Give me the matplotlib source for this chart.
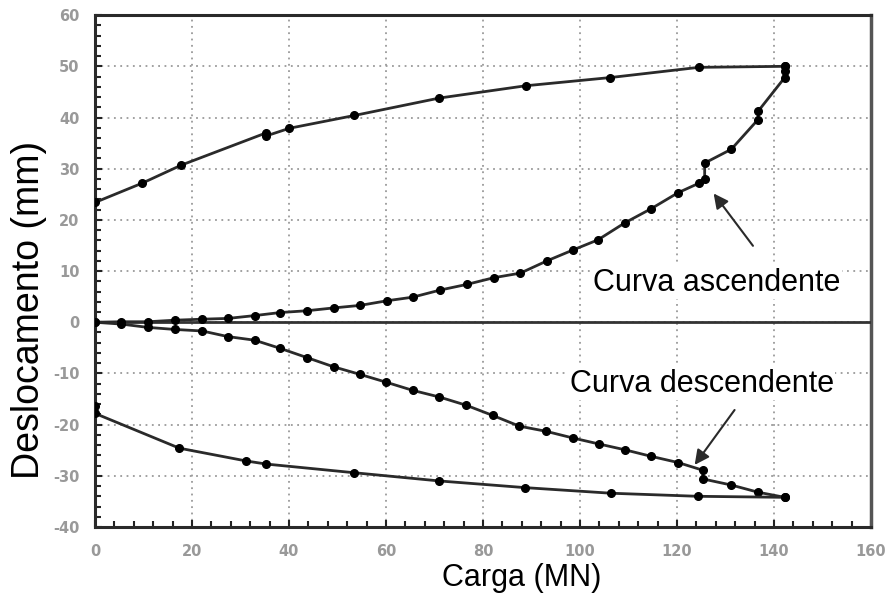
import numpy as np
import matplotlib
matplotlib.use('Agg')
import matplotlib.pyplot as plt
from matplotlib.ticker import MultipleLocator

plt.rcParams['axes.unicode_minus'] = False

# curva ascendente (carga, deslocamento positivo)
asc_x = [0, 5.4, 10.9, 16.4, 22.1, 27.4, 32.9, 38.2, 43.7, 49.2, 54.7, 60.2, 65.5, 71.2,
         76.7, 82.2, 87.7, 93.2, 98.5, 103.7, 109.2, 114.7, 120.2, 124.6, 125.7, 125.7,
         131.2, 136.7, 136.7, 142.2, 142.2, 142.2]
asc_y = [0, 0.1, 0.1, 0.4, 0.6, 0.75, 1.3, 1.9, 2.25, 2.8, 3.3, 4.2, 4.9, 6.3,
         7.4, 8.7, 9.6, 12.0, 14.1, 16.1, 19.4, 22.2, 25.3, 27.2, 28.0, 31.1,
         33.8, 39.6, 41.2, 47.8, 49.0, 50.0]

# descarga superior
top_x = [142.2, 124.5, 106.2, 88.8, 71.0, 53.5, 40.1, 35.3, 35.3, 17.8, 9.8, 0]
top_y = [50.0, 49.8, 47.8, 46.2, 43.8, 40.4, 37.9, 36.4, 37.0, 30.7, 27.2, 23.4]

# curva descendente
desc_x = [0, 5.4, 10.9, 16.4, 22.1, 27.4, 32.9, 38.2, 43.7, 49.2, 54.7, 60.0, 65.5,
          71.0, 76.5, 82.0, 87.5, 93.0, 98.5, 104.0, 109.2, 114.7, 120.2, 125.3, 125.3,
          131.2, 136.7, 142.2]
desc_y = [0, -0.35, -1.0, -1.4, -1.7, -2.8, -3.5, -5.1, -6.9, -8.7, -10.2, -11.7, -13.3,
          -14.6, -16.2, -18.2, -20.3, -21.3, -22.6, -23.8, -24.9, -26.2, -27.4, -28.9, -30.6,
          -31.8, -33.2, -34.2]

# descarga inferior
bot_x = [142.2, 124.3, 106.4, 88.6, 71.0, 53.5, 35.3, 31.2, 17.4, 0, 0]
bot_y = [-34.2, -34.0, -33.4, -32.3, -31.0, -29.4, -27.7, -27.1, -24.6, -17.8, -16.4]

fig = plt.figure(figsize=(8.9, 5.98), dpi=100)
ax = fig.add_axes([0.1067, 0.1187, 0.872, 0.856])

line_kw = dict(color='#2a2a2a', lw=2, marker='o', ms=5.5, mfc='black', mec='black', zorder=4)
ax.plot(asc_x, asc_y, **line_kw)
ax.plot(top_x, top_y, **line_kw)
ax.plot(desc_x, desc_y, **line_kw)
ax.plot(bot_x, bot_y, **line_kw)

ax.axhline(0, color='#333333', lw=2, zorder=3)

ax.set_xlim(0, 160)
ax.set_ylim(-40, 60)
ax.xaxis.set_major_locator(MultipleLocator(20))
ax.xaxis.set_minor_locator(MultipleLocator(4))
ax.yaxis.set_major_locator(MultipleLocator(10))
ax.yaxis.set_minor_locator(MultipleLocator(2))
ax.tick_params(which='both', direction='in', color='#222222', width=1.5)
ax.tick_params(which='major', length=5, labelsize=10.5, labelcolor='#999999', pad=11)
ax.tick_params(which='minor', length=4)
ax.tick_params(axis='x', pad=12)
for lab in ax.get_xticklabels() + ax.get_yticklabels():
    lab.set_fontweight('bold')

ax.grid(True, which='major', ls=(0, (1, 2.5)), color='#9a9a9a', lw=1.3, zorder=0)

for s in ['left', 'bottom', 'top']:
    ax.spines[s].set_linewidth(2.2)
    ax.spines[s].set_color('#2a2a2a')
ax.spines['right'].set_linewidth(2.5)
ax.spines['right'].set_color('#555555')

font = 'Liberation Sans'
ax.set_xlabel('Carga (MN)', fontsize=22, family=font)
ax.set_ylabel('Deslocamento (mm)', fontsize=27, family=font)
ax.xaxis.set_label_coords(0.55, -0.07)
ax.yaxis.set_label_coords(-0.062, 0.424)

bbox = dict(facecolor='white', edgecolor='none', pad=1)
ax.text(128.1, 7.7, 'Curva ascendente', fontsize=22, family=font, ha='center', va='center',
        bbox=bbox, zorder=2)
ax.text(125.1, -12.0, 'Curva descendente', fontsize=22, family=font, ha='center', va='center',
        bbox=bbox, zorder=2)

arrow = dict(arrowstyle='-|>', color='#2a2a2a', lw=1.5, mutation_scale=22)
ax.annotate('', xy=(127.2, 25.6), xytext=(136.0, 14.5), arrowprops=arrow, zorder=5)
ax.annotate('', xy=(123.3, -28.3), xytext=(132.2, -16.7), arrowprops=arrow, zorder=5)

fig.savefig('out.png', dpi=100)
